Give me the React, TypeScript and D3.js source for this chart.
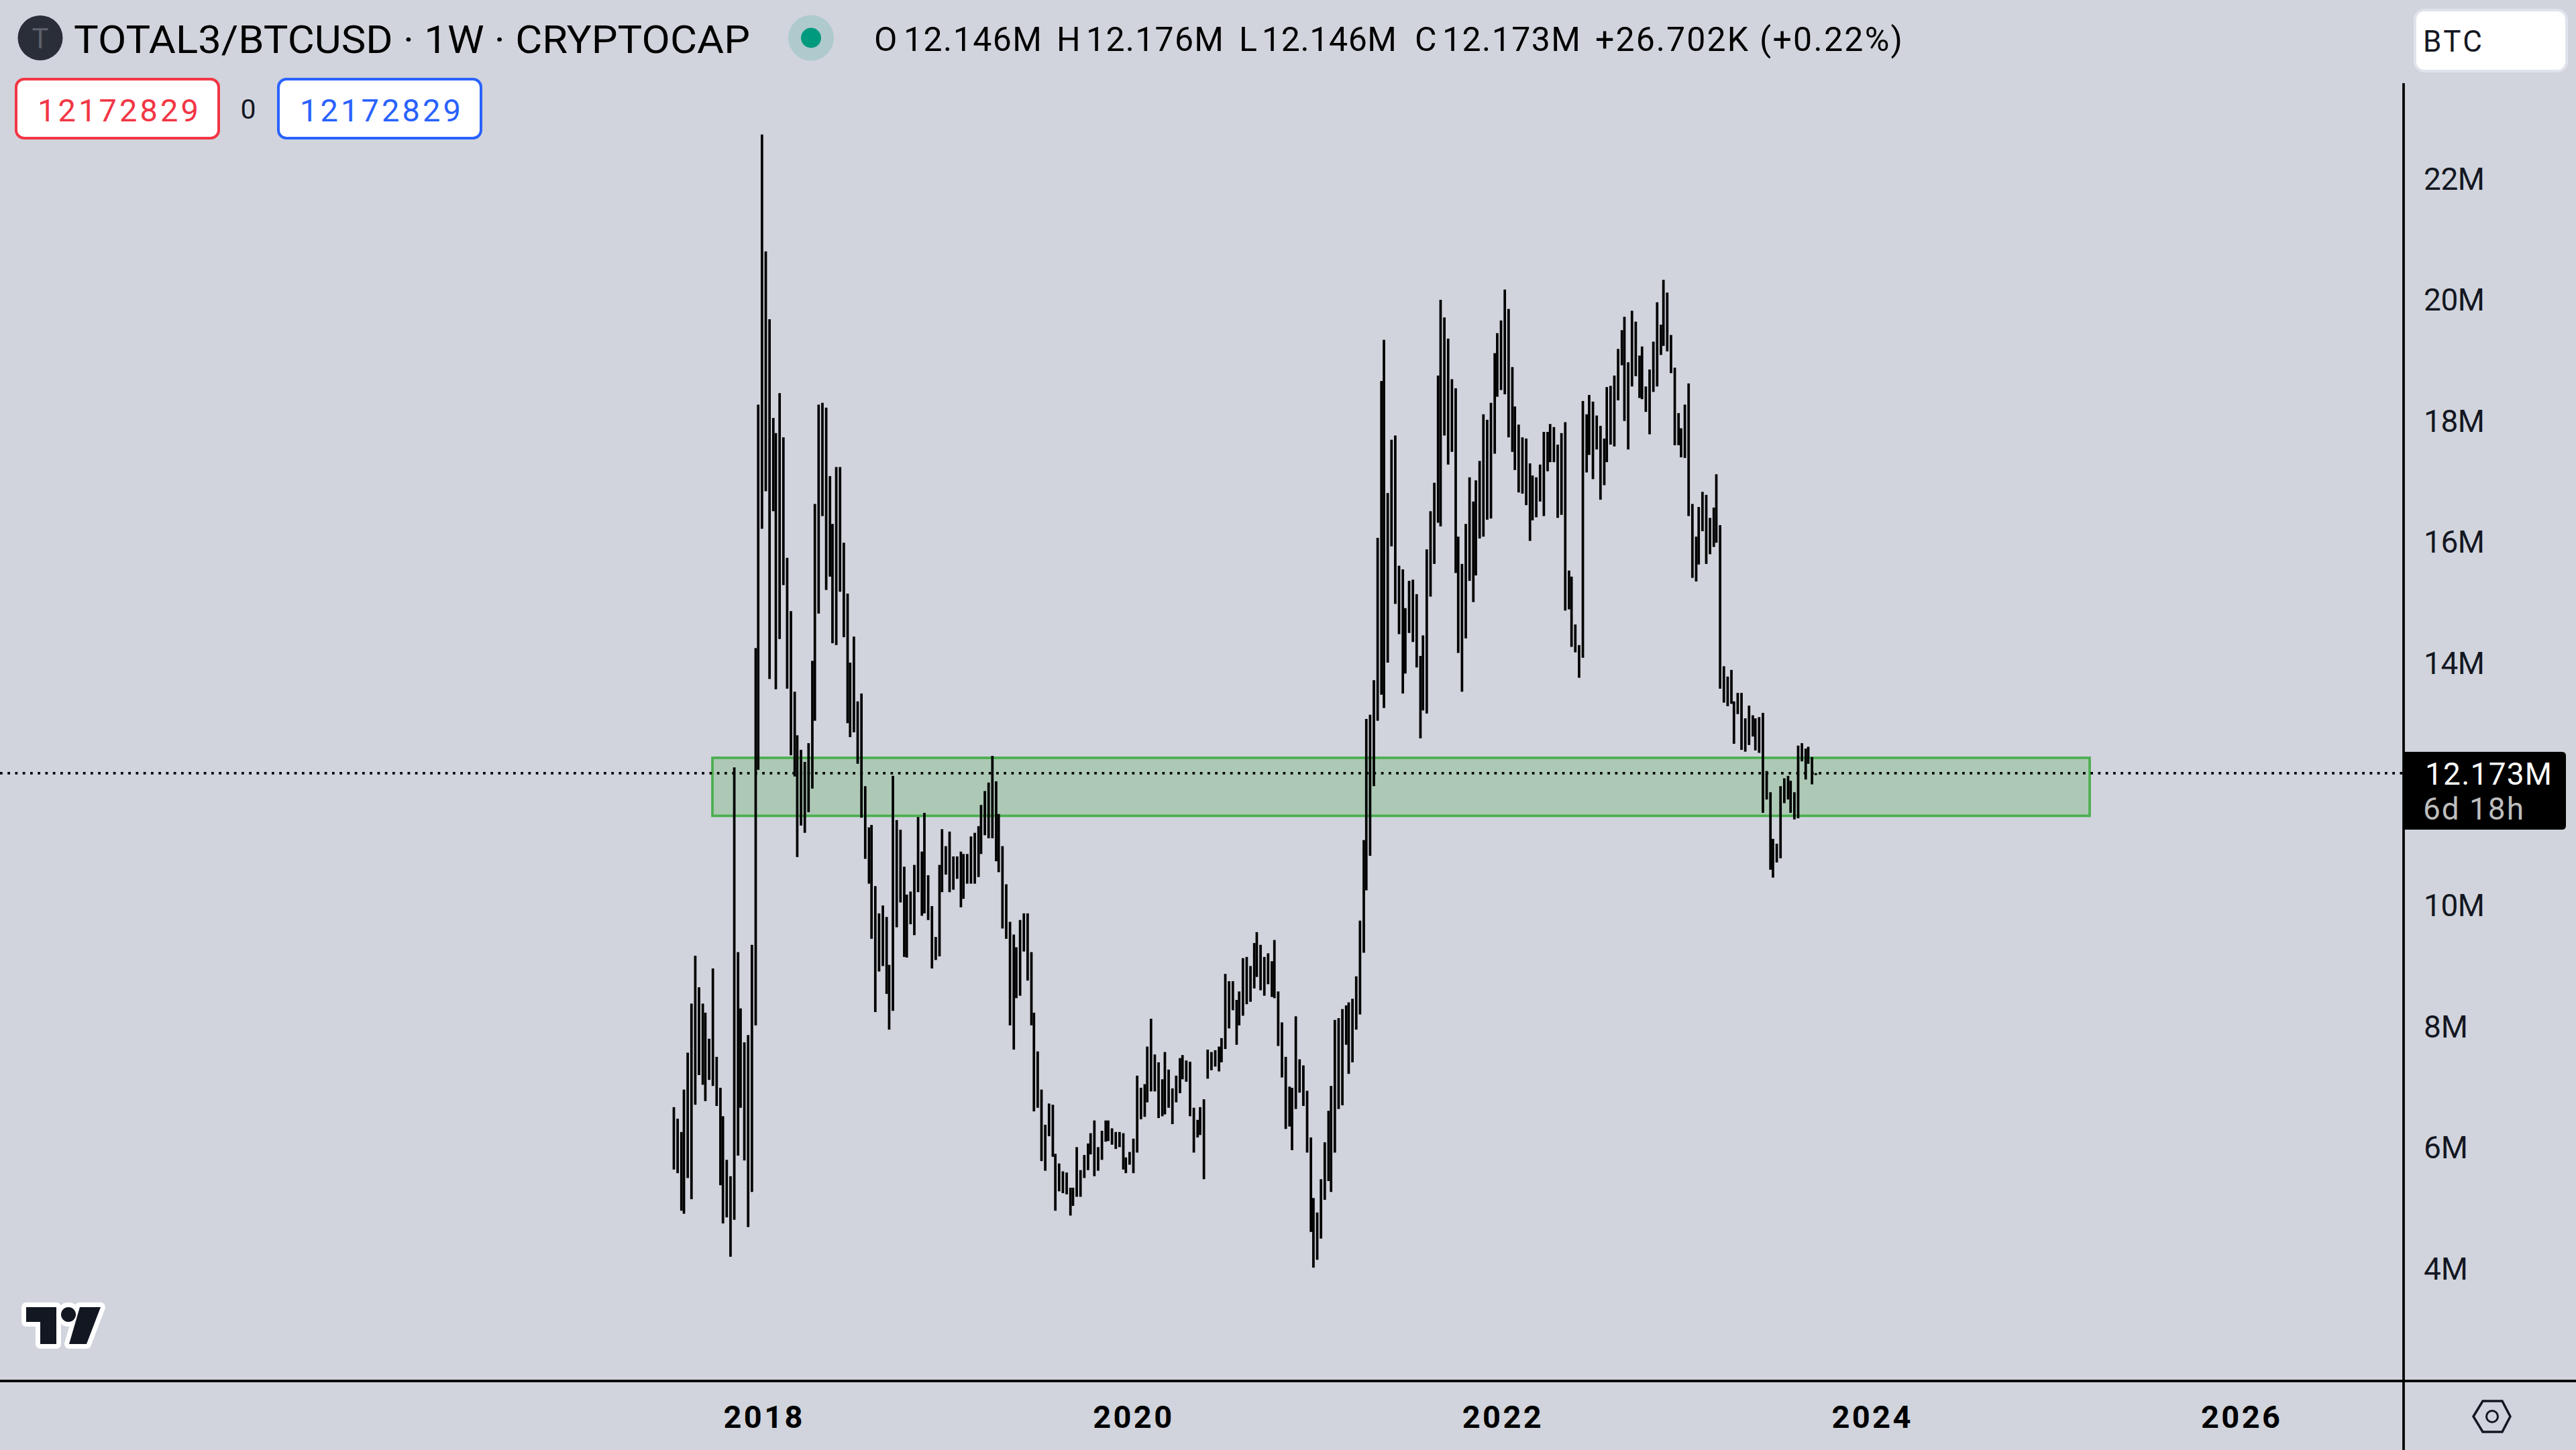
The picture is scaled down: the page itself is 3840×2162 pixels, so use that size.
import React from "react";
import * as d3 from "d3";

const WIDTH = 3840;
const HEIGHT = 2162;

const barHighs = [
6.66,6.47,6.25,6.95,7.56,8.37,9.16,8.64,8.37,8.22,
7.79,8.95,7.49,6.98,6.51,5.79,5.52,12.27,9.22,8.29,
7.73,7.85,9.34,14.24,18.26,22.72,20.79,19.67,18.04,17.79,
18.45,17.72,15.73,14.85,13.52,12.80,12.56,12.36,12.67,14.03,
16.62,18.26,18.29,18.21,17.08,16.29,17.23,17.23,15.98,15.14,
14.00,14.43,13.36,13.49,11.96,11.28,11.32,10.31,9.86,9.99,
9.80,9.01,12.13,11.40,11.24,10.63,10.17,10.22,10.66,11.45,
10.88,11.52,10.49,9.98,9.47,10.66,11.25,10.97,11.21,10.80,
10.80,10.88,10.84,10.84,11.13,11.19,11.30,11.65,11.88,12.02,
12.46,12.04,11.50,10.97,10.34,9.72,9.51,9.30,9.75,9.86,
9.86,9.22,8.22,7.58,6.95,6.37,6.72,6.70,5.89,5.73,
5.60,5.58,5.33,5.33,6.00,5.62,5.87,6.06,6.23,6.44,
6.00,6.27,6.44,6.44,6.31,6.25,6.25,6.23,5.83,5.92,
6.14,7.18,6.98,7.04,7.66,8.12,7.53,7.40,7.12,7.57,
7.28,6.97,7.18,7.47,7.52,7.43,7.41,6.65,6.45,6.66,
6.79,7.61,7.57,7.60,7.66,7.80,8.86,8.74,8.74,8.43,
8.57,9.12,9.14,8.99,9.37,9.55,9.34,9.14,9.20,9.07,
9.42,8.57,8.06,7.49,7.00,6.98,8.16,7.45,7.35,6.93,
6.16,5.16,4.92,5.47,6.08,6.60,7.01,8.10,8.13,8.28,
8.34,8.39,8.45,8.82,9.74,11.07,13.07,13.14,13.71,16.06,
18.65,19.33,16.80,17.68,17.75,15.60,15.54,14.90,15.35,15.37,
15.13,14.11,14.45,15.87,16.50,16.97,18.74,19.99,19.70,19.35,
18.68,18.53,16.08,15.63,16.29,17.06,16.66,17.01,17.33,18.10,
18.01,18.29,19.11,19.44,19.65,20.16,19.84,18.88,18.23,17.93,
17.72,17.70,17.29,17.09,17.06,17.27,17.81,17.81,17.94,17.89,
17.60,17.79,17.97,15.52,15.42,14.63,14.29,18.32,18.10,18.42,
18.31,18.08,17.91,17.70,18.55,18.57,18.74,19.18,19.49,19.71,
18.96,19.81,19.63,19.07,19.22,18.56,18.84,19.30,19.95,19.58,
20.32,20.11,19.41,18.87,18.12,17.87,18.26,18.61,16.62,16.08,
16.57,16.82,16.77,16.39,16.56,17.11,16.27,13.94,13.77,13.88,
13.36,13.50,13.50,13.08,13.29,13.13,13.08,13.10,13.17,12.21,
11.86,11.09,11.01,11.96,12.09,12.13,12.05,11.86,12.63,12.67,
12.58,12.61,12.44,12.176,
];

const barLows = [
5.63,5.57,4.95,4.90,5.49,5.14,6.70,7.19,7.03,6.76,
7.11,7.01,6.68,5.37,4.74,4.84,4.19,4.80,5.86,6.65,
5.78,4.68,5.26,8.01,12.23,16.21,16.83,13.73,16.50,13.56,
14.39,15.28,13.57,12.47,12.12,10.79,11.31,11.19,11.53,11.92,
13.04,14.81,16.42,15.20,15.42,14.32,14.29,15.17,14.42,13.00,
12.77,12.85,12.33,11.44,10.76,10.35,9.44,8.23,8.90,8.99,
8.53,7.94,8.25,9.63,10.04,9.14,9.13,9.68,9.50,10.21,
9.82,9.86,9.75,8.95,9.09,9.15,10.21,10.50,10.21,10.25,
10.43,9.96,10.10,10.35,10.35,10.35,10.46,10.84,11.15,11.10,
11.10,10.72,10.54,9.61,9.44,8.01,7.61,8.46,8.50,9.23,
8.75,8.01,6.59,6.65,5.77,5.61,6.18,5.84,4.95,5.27,
5.24,5.22,4.87,5.03,5.18,5.18,5.49,5.62,5.88,5.52,
5.61,5.79,6.09,6.10,6.04,5.97,6.00,5.63,5.57,5.71,
5.57,5.91,6.46,6.50,6.74,6.92,6.92,6.48,6.51,6.54,
6.65,6.38,6.74,6.89,7.12,7.08,6.51,5.91,6.16,6.20,
5.47,7.13,7.27,7.33,7.25,7.40,7.62,7.96,8.26,7.69,
8.01,8.17,8.36,8.40,8.62,8.81,8.59,8.50,8.69,8.48,
8.46,7.67,7.15,6.30,6.34,5.95,6.63,6.90,6.68,5.91,
4.60,4.01,4.14,4.49,5.13,5.44,5.26,5.91,6.63,6.69,
7.69,7.21,7.40,7.94,8.19,9.21,10.24,10.81,11.96,13.04,
13.47,13.25,14.00,15.92,14.97,14.47,13.49,13.82,14.49,14.34,
13.92,12.75,13.21,13.16,15.09,15.63,16.31,16.25,17.75,17.27,
17.48,15.48,14.16,13.52,14.40,15.35,15.00,15.44,16.05,16.08,
16.36,16.38,17.45,18.39,18.50,18.43,17.72,17.48,17.18,16.81,
16.79,16.60,16.01,16.35,16.40,16.66,16.42,17.16,17.31,17.31,
16.39,16.44,14.86,14.88,14.26,14.17,13.75,14.08,17.14,17.43,
17.03,17.52,16.69,16.93,17.31,17.60,17.57,18.33,18.91,17.99,
17.52,18.56,18.73,18.37,18.35,18.14,17.77,18.47,18.56,19.08,
19.23,19.14,18.78,17.59,17.59,17.39,17.38,16.42,15.40,15.34,
15.62,16.17,15.63,15.79,15.91,15.98,13.57,13.34,13.28,13.32,
12.66,13.15,12.56,12.53,12.64,12.78,12.55,12.51,11.52,11.74,
10.58,10.45,10.70,10.77,11.68,11.74,11.52,11.41,11.43,12.37,
12.07,12.33,11.99,12.146,
];

const priceTicks = [4, 6, 8, 10, 14, 16, 18, 20, 22];
const yearTicks = [2018, 2020, 2022, 2024, 2026];
const lastPrice = 12.173;
const zoneTop = 12.428;
const zoneBottom = 11.47;
const title = "TOTAL3/BTCUSD · 1W · CRYPTOCAP";
const ohlcTokens = ["O", "12.146M", "H", "12.176M", "L", "12.146M", "C", "12.173M", "+26.702K", "(+0.22%)"];
const ohlcStart = [1303, 1347, 1575, 1619, 1847, 1881, 2109, 2150, 2378, 2623];
const ohlcWidth = [34, 206, 34, 205, 26, 201, 32, 206, 228, 213];

const FONT = "Roboto, 'Noto Sans', sans-serif";
const BG = "#d1d4dc";
const INK = "#131722";
const STROKE = 3.75;
const AXIS_X = 3583;
const AXIS_Y = 2059;
const FIRST_WEEK = Date.UTC(2017, 6, 10);
const WEEK = 7 * 24 * 3600 * 1000;
const DEVICE_PX = 1.8768;

const weekDate = (i: number) => new Date(FIRST_WEEK + i * WEEK);

const x = d3
  .scaleUtc()
  .domain([weekDate(0), weekDate(323)])
  .range([1004.5, 2706.8]);

const yearX = d3.scaleLinear().domain([2018, 2026]).range([1137.5, 3340]);

const y = d3.scaleLinear().domain([4, 22]).range([1891, 265.6]);

const snap = (px: number) =>
  1004.5 + Math.floor((px - 1004.5) / DEVICE_PX + 0.554) * DEVICE_PX;

const hexagon = d3.line()([
  [3687, 2112],
  [3701, 2089],
  [3730, 2089],
  [3742, 2112],
  [3730, 2135],
  [3701, 2135],
]) + "Z";

function TVLogo() {
  const parts = (
    <>
      <path d="M39 1949H84V2004H60V1971H39Z" />
      <circle cx={102} cy={1960} r={11} />
      <path d="M119 1949H150L129 2004H103Z" />
    </>
  );
  return (
    <g>
      <g fill="#fff" stroke="#fff" strokeWidth={14} strokeLinejoin="round">
        {parts}
      </g>
      <g fill={INK}>{parts}</g>
    </g>
  );
}

export default function App() {
  return (
    <svg
      width={WIDTH}
      height={HEIGHT}
      viewBox={`0 0 ${WIDTH} ${HEIGHT}`}
      style={{ position: "absolute", left: 0, top: 0, display: "block" }}
      fontFamily={FONT}
    >
      <rect width={WIDTH} height={HEIGHT} fill={BG} />

      {/* zone */}
      <rect
        x={x(weekDate(0)) + 57.5}
        y={y(zoneTop)}
        width={2053}
        height={y(zoneBottom) - y(zoneTop)}
        fill="#4caf50"
        fillOpacity={0.27}
        stroke="#4caf50"
        strokeWidth={3.75}
      />

      {/* hi-lo bars */}
      <g fill="#000">
        {barHighs.map((h, i) => (
          <rect
            key={i}
            x={snap(x(weekDate(i))) - STROKE / 2}
            y={y(h)}
            width={STROKE}
            height={Math.max(y(barLows[i]) - y(h), 3)}
          />
        ))}
      </g>

      {/* last price line */}
      <line
        x1={0}
        x2={AXIS_X}
        y1={y(lastPrice)}
        y2={y(lastPrice)}
        stroke="#000"
        strokeWidth={STROKE}
        strokeDasharray="3.75 7.5"
      />

      {/* axes */}
      <line x1={AXIS_X} x2={AXIS_X} y1={124} y2={HEIGHT} stroke="#000" strokeWidth={STROKE} />
      <line x1={0} x2={WIDTH} y1={AXIS_Y} y2={AXIS_Y} stroke="#000" strokeWidth={STROKE} />

      {priceTicks.map((t) => (
        <text key={t} x={3613} y={y(t) + 17} fontSize={46} fill={INK} textLength={t < 10 ? 66 : 91} lengthAdjust="spacing">
          {t}M
        </text>
      ))}

      {yearTicks.map((yr) => (
        <text
          key={yr}
          x={yearX(yr) - 59}
          y={2129}
          fontSize={47}
          fontWeight={700}
          fill="#000"
          textLength={118}
          lengthAdjust="spacing"
        >
          {yr}
        </text>
      ))}

      {/* last price label */}
      <path
        d={`M${AXIS_X} 1121H3819Q3825 1121 3825 1127V1231Q3825 1237 3819 1237H${AXIS_X}Z`}
        fill="#000"
      />
      <text x={3615} y={1170} fontSize={46} fill="#fff" textLength={189} lengthAdjust="spacing">
        {d3.format(".3f")(lastPrice)}M
      </text>
      <text x={3612} y={1222} fontSize={46} fill="#bdbdbd" textLength={150} lengthAdjust="spacing">
        6d 18h
      </text>

      {/* header */}
      <circle cx={60} cy={56.5} r={33.5} fill="#2a2e39" />
      <text x={60} y={72} fontSize={42} textAnchor="middle" fill="#5d606b">
        T
      </text>
      <text x={110} y={79} fontSize={58} fill="#000" fontWeight={400} textLength={1008} lengthAdjust="spacingAndGlyphs">
        {title}
      </text>
      <circle cx={1209} cy={56.5} r={34} fill="#089981" fillOpacity={0.17} />
      <circle cx={1209} cy={56.5} r={15} fill="#009a7f" />
      {ohlcTokens.map((tok, i) => (
        <text key={i} x={ohlcStart[i]} y={76} fontSize={50} fill="#000" textLength={ohlcWidth[i]} lengthAdjust="spacing">
          {tok}
        </text>
      ))}

      {/* indicator chips */}
      <rect x={24} y={118} width={302} height={88} rx={12} fill="#fff" stroke="#f23645" strokeWidth={4} />
      <text x={56} y={181} fontSize={47} fill="#f23645" textLength={240} lengthAdjust="spacing">
        12172829
      </text>
      <text x={370} y={177} fontSize={41} textAnchor="middle" fill={INK}>
        0
      </text>
      <rect x={415} y={118} width={302} height={88} rx={12} fill="#fff" stroke="#2962ff" strokeWidth={4} />
      <text x={447} y={181} fontSize={47} fill="#2962ff" textLength={240} lengthAdjust="spacing">
        12172829
      </text>

      {/* BTC chip */}
      <rect x={3600} y={15} width={226} height={91} rx={14} fill="#fff" stroke="#e0e3eb" strokeWidth={4} />
      <text x={3612} y={77} fontSize={44} fill={INK} textLength={88} lengthAdjust="spacing">
        BTC
      </text>

      <TVLogo />

      {/* settings hexagon */}
      <path d={hexagon} fill="none" stroke={INK} strokeWidth={3.5} />
      <circle cx={3715} cy={2112} r={8.5} fill="none" stroke={INK} strokeWidth={3} />
    </svg>
  );
}
